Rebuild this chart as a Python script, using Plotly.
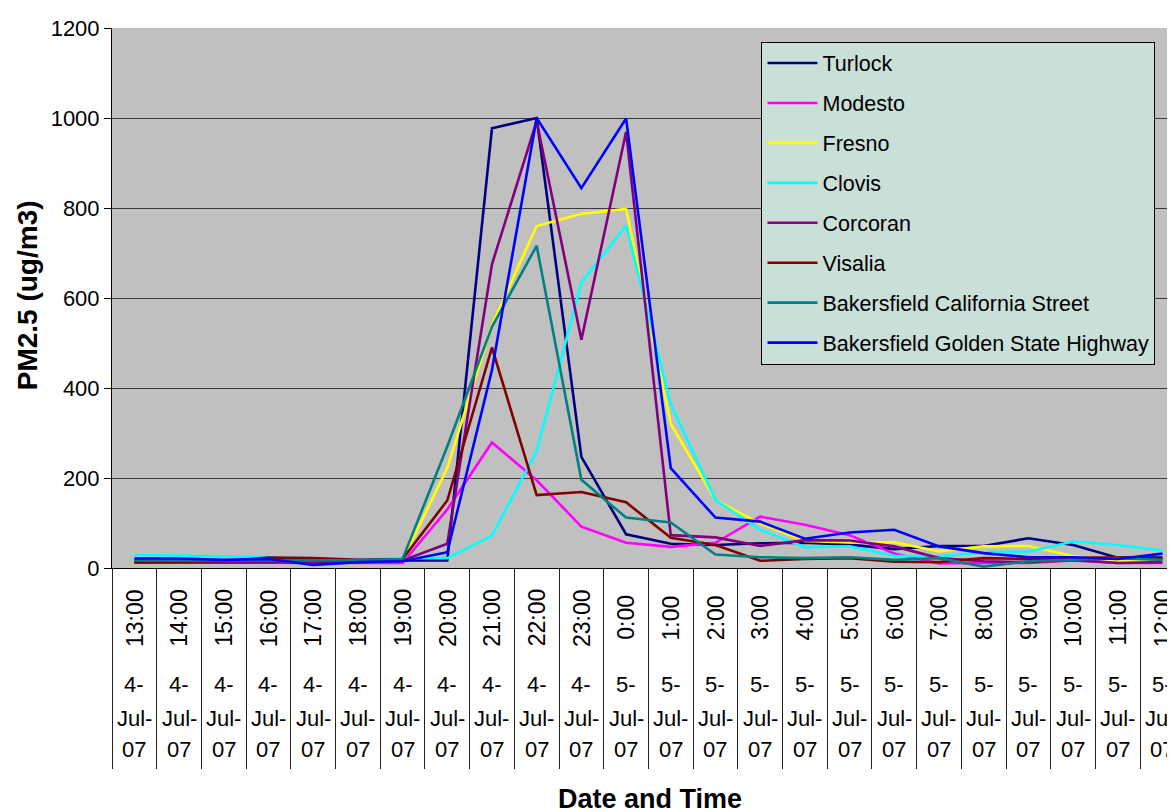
import plotly.graph_objects as go

# ---------------- data ----------------
times = ["13:00", "14:00", "15:00", "16:00", "17:00", "18:00", "19:00", "20:00",
         "21:00", "22:00", "23:00", "0:00", "1:00", "2:00", "3:00", "4:00",
         "5:00", "6:00", "7:00", "8:00", "9:00", "10:00", "11:00", "12:00"]
dates = ["4-Jul-07"] * 11 + ["5-Jul-07"] * 13

turlock = [17, 17, 17, 16, 15, 15, 17, 17, 977, 1000, 247, 75, 54, 51, 55, 56,
           52, 42, 49, 49, 66, 51, 23, 23]
modesto = [12, 12, 12, 12, 12, 12, 11, 130, 279, 195, 92, 56, 47, 56, 114, 96,
           73, 32, 10, 11, 11, 17, 11, 11]
fresno = [16, 16, 16, 16, 16, 16, 18, 222, 540, 760, 787, 798, 320, 151, 99, 60,
          57, 57, 37, 48, 49, 26, 17, 17]
clovis = [29, 28, 26, 24, 22, 20, 22, 22, 72, 260, 634, 761, 364, 151, 85, 46,
          48, 27, 26, 35, 36, 59, 51, 39]
corcoran = [12, 12, 13, 12, 12, 13, 17, 54, 675, 993, 507, 969, 73, 68, 49, 62,
            61, 48, 22, 15, 13, 18, 11, 13]
visalia = [14, 14, 15, 23, 22, 18, 20, 150, 490, 162, 169, 146, 67, 51, 16, 20,
           22, 14, 13, 22, 20, 22, 24, 20]
bak_ca = [17, 17, 17, 17, 18, 17, 20, 270, 536, 716, 196, 112, 101, 30, 24, 22,
          24, 18, 22, 3, 15, 18, 22, 18]
bak_gsh = [21, 21, 18, 20, 7, 13, 15, 35, 440, 1000, 844, 999, 222, 112, 103, 65,
           79, 85, 48, 33, 24, 24, 20, 32]

series_names = ["Turlock", "Modesto", "Fresno", "Clovis", "Corcoran", "Visalia",
                "Bakersfield California Street", "Bakersfield Golden State Highway"]
series_values = [turlock, modesto, fresno, clovis, corcoran, visalia, bak_ca, bak_gsh]
series_colors = ["#000080", "#FF00FF", "#FFFF00", "#00FFFF", "#800080", "#800000",
                 "#008080", "#0000FF"]

y_ticks = [0, 200, 400, 600, 800, 1000, 1200]

categories = [f"{d} {t}" for d, t in zip(dates, times)]

FONT = "Liberation Sans, Arial, sans-serif"

fig = go.Figure()
for name, vals, col in zip(series_names, series_values, series_colors):
    fig.add_trace(go.Scatter(
        x=categories, y=vals, name=name, mode="lines",
        line=dict(color=col, width=2.6), legendgroup=name,
    ))

annotations = []
for cat, t, d in zip(categories, times, dates):
    annotations.append(dict(
        x=cat, xref="x", y=-0.092, yref="paper", text=t, textangle=-90,
        showarrow=False, xanchor="center", yanchor="middle",
        font=dict(family=FONT, size=23, color="black")))
    parts = d.split("-")
    rows = [parts[0] + "-", parts[1] + "-", parts[2]]
    for row_text, yy in zip(rows, [-0.2165, -0.2789, -0.3358]):
        annotations.append(dict(
            x=cat, xref="x", y=yy, yref="paper", text=row_text,
            showarrow=False, xanchor="center", yanchor="middle",
            font=dict(family=FONT, size=22, color="black")))

annotations.append(dict(
    x=0.506, xref="paper", y=-0.428, yref="paper", text="<b>Date and Time</b>",
    showarrow=False, xanchor="center", yanchor="middle",
    font=dict(family=FONT, size=27, color="black")))
annotations.append(dict(
    x=-0.080, xref="paper", y=0.505, yref="paper", text="<b>PM2.5 (ug/m3)</b>",
    textangle=-90, showarrow=False, xanchor="center", yanchor="middle",
    font=dict(family=FONT, size=28, color="black")))

# the page body adds an 8px offset; margins compensate for it
fig.update_layout(
    width=1175, height=812,
    margin=dict(l=104, r=8, t=15, b=252),
    paper_bgcolor="white",
    plot_bgcolor="#C0C0C0",
    font=dict(family=FONT, size=22, color="black"),
    showlegend=True,
    legend=dict(
        x=0.611, y=0.975, xanchor="left", yanchor="top",
        bgcolor="#C9DFD8", bordercolor="black", borderwidth=1,
        font=dict(family=FONT, size=21.5, color="black"),
        tracegroupgap=9, itemwidth=50,
    ),
    annotations=annotations,
)

fig.update_xaxes(
    type="category", range=[-0.5, 23.28], showticklabels=False,
    tickson="boundaries", ticks="outside", ticklen=200, tickwidth=1,
    tickcolor="#222222", showgrid=False, showline=True, linecolor="black",
    linewidth=1, zeroline=False, fixedrange=True,
)
fig.update_yaxes(
    range=[0, 1200], tickvals=y_ticks, ticktext=[str(v) for v in y_ticks],
    ticks="outside", ticklen=7, tickcolor="black", tickwidth=1,
    showgrid=True, gridcolor="#3A3A3A", gridwidth=1,
    showline=True, linecolor="black", linewidth=1, zeroline=False,
    tickfont=dict(family=FONT, size=22, color="black"),
)

fig.write_html("out.html")
